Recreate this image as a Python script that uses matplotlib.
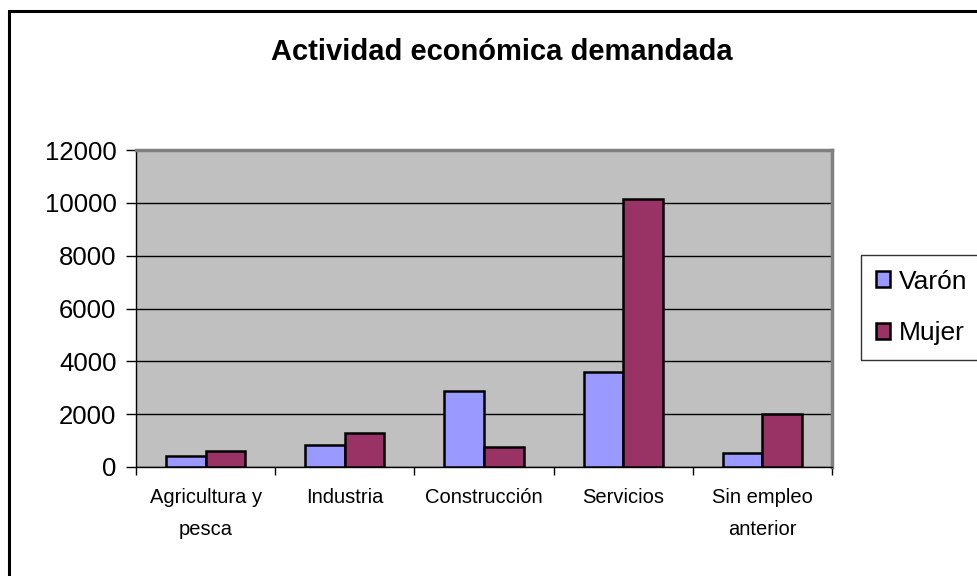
import matplotlib
matplotlib.use('Agg')
import matplotlib.pyplot as plt
import numpy as np
from matplotlib.patches import Rectangle

plt.rcParams['font.family'] = ['Liberation Sans', 'DejaVu Sans']

categorias = ['Agricultura y\npesca', 'Industria', 'Construcción', 'Servicios', 'Sin empleo\nanterior']
varon = [420, 850, 2870, 3600, 540]
mujer = [620, 1270, 750, 10150, 2020]
series = ['Varón', 'Mujer']
colores = ['#9999FF', '#993366']

fig = plt.figure(figsize=(9.77, 5.76), dpi=100)
# marco del grafico (sale por la derecha y por abajo)
fig.patches.append(Rectangle((9 / 977, -0.05), 1.2, 1 - 11 / 576 + 0.05,
                             transform=fig.transFigure, fill=False,
                             edgecolor='black', linewidth=2.2))

ax = fig.add_axes([136 / 977, 1 - 467 / 576, 696 / 977, 317 / 576])
ax.set_facecolor('#C0C0C0')

x = np.arange(len(categorias))
ancho = 0.285
ax.bar(x - ancho / 2, varon, ancho, color=colores[0], edgecolor='black', linewidth=1.8, label=series[0], zorder=3)
ax.bar(x + ancho / 2, mujer, ancho, color=colores[1], edgecolor='black', linewidth=1.8, label=series[1], zorder=3)

ax.set_xlim(-0.5, len(categorias) - 0.5)
ax.set_ylim(0, 12000)
ax.set_yticks(range(0, 12001, 2000))
ax.yaxis.grid(True, color='black', linewidth=1.0, zorder=1)
ax.set_axisbelow(True)

ax.set_xticks(x)
ax.set_xticklabels(categorias, fontsize=14.5, linespacing=1.85)
ax.tick_params(axis='x', which='major', length=0, pad=15)
ax.set_xticks(np.arange(-0.5, len(categorias), 1), minor=True)
ax.tick_params(axis='x', which='minor', length=6, width=1, direction='out')
ax.tick_params(axis='y', labelsize=18.5, length=7, width=1, pad=7)

for lado in ['top', 'right']:
    ax.spines[lado].set_color('#808080')
    ax.spines[lado].set_linewidth(2.5)
for lado in ['left', 'bottom']:
    ax.spines[lado].set_color('black')
    ax.spines[lado].set_linewidth(1.0)

fig.text(502 / 977, 1 - 52 / 576, 'Actividad económica demandada', ha='center', va='center',
         fontsize=21, fontweight='bold')

leg = fig.legend(loc='upper left', bbox_to_anchor=(861 / 977, 1 - 255 / 576), fontsize=19,
                 frameon=True, fancybox=False, edgecolor='black', handlelength=0.55, handleheight=0.55,
                 handletextpad=0.35, labelspacing=1.05, borderpad=0.55, borderaxespad=0)
leg.get_frame().set_linewidth(1.0)

fig.savefig('out.png', dpi=100)
